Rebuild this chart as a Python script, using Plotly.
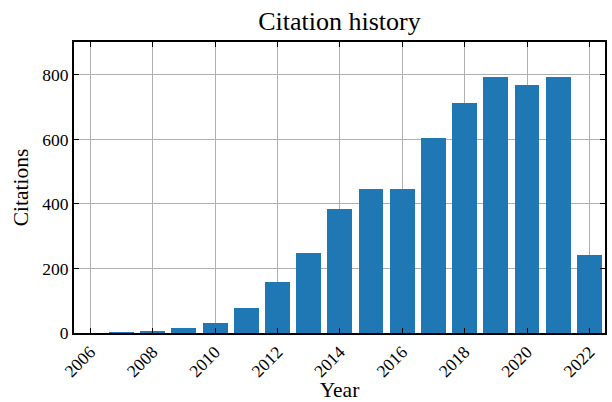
import plotly.graph_objects as go

years = [2006, 2007, 2008, 2009, 2010, 2011, 2012, 2013, 2014, 2015, 2016, 2017, 2018, 2019, 2020, 2021, 2022]
citations = [0, 3, 6, 15, 31, 77, 158, 248, 383, 445, 445, 603, 714, 795, 770, 795, 242]
xticks = list(range(2006, 2023, 2))
yticks = [0, 200, 400, 600, 800]

font = "Liberation Serif"

fig = go.Figure()
fig.add_trace(go.Bar(x=years, y=citations, width=0.8, marker=dict(color="#1f77b4", line=dict(width=0)),
                     hoverinfo="skip"))

fig.update_layout(
    width=612, height=402,
    margin=dict(l=74, r=7, t=42, b=69, autoexpand=False),
    paper_bgcolor="white", plot_bgcolor="white",
    font=dict(family=font, size=18, color="black"),
    title=dict(text="Citation history", x=0.5, xanchor="center", y=0.925, yanchor="bottom",
               xref="paper", yref="container", automargin=False,
               font=dict(family=font, size=26, color="black")),
    showlegend=False,
    bargap=0,
)
axis_common = dict(
    showline=True, linewidth=2, linecolor="black", mirror="ticks",
    ticks="inside", ticklen=5, tickwidth=1.2, tickcolor="black",
    showgrid=True, gridcolor="#b0b0b0", gridwidth=1.2, zeroline=False,
    tickfont=dict(family=font, size=17.5, color="black"),
    automargin=False,
)
fig.update_xaxes(range=[2005.48, 2022.5], tickvals=xticks, ticktext=[str(v) for v in xticks],
                 tickangle=-45, title=dict(text="Year", font=dict(family=font, size=21.5), standoff=2),
                 **axis_common)
fig.update_yaxes(range=[0, 902], tickvals=yticks, ticktext=[str(v) for v in yticks],
                 title=dict(text="Citations", font=dict(family=font, size=21.5), standoff=8),
                 **axis_common)

fig.write_html("out.html", config={"displayModeBar": False},
               post_script="document.body.style.margin='0';document.body.style.padding='0';")
